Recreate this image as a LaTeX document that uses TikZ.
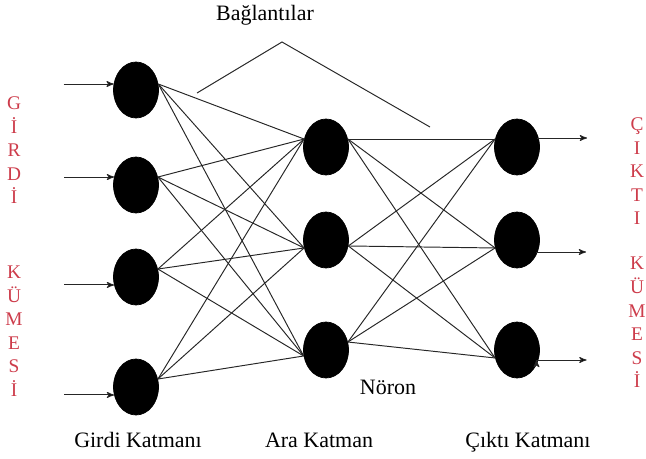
\documentclass[tikz,border=0pt]{standalone}
\usepackage{fontspec}
\setmainfont{Liberation Serif}
\usetikzlibrary{arrows,positioning,shapes.geometric}

\definecolor{setred}{RGB}{205,60,75}

\begin{document}
\begin{tikzpicture}[-,>=stealth',on grid,
  neuron/.style={ellipse,fill=black,draw=black,inner sep=0pt,
    minimum width=0.9cm,minimum height=1.12cm},
  link/.style={draw=black!85,line width=0.55pt},
  label/.style={font=\fontsize{12.5}{14}\selectfont,anchor=base},
  setlabel/.style={text=setred,font=\fontsize{11}{13.4}\selectfont,align=center}]

\useasboundingbox (0,0) rectangle (12.92,-9.18);

\node[neuron] (i_1) at (2.72,-1.80) {};
\node[neuron] (i_2) [below=1.90cm of i_1] {};
\node[neuron] (i_3) [below=1.84cm of i_2] {};
\node[neuron] (i_4) [below=2.20cm of i_3] {};
\node[neuron] (h_1) at (6.52,-2.94) {};
\node[neuron] (h_2) [below=1.86cm of h_1] {};
\node[neuron] (h_3) [below=2.20cm of h_2] {};
\node[neuron] (o_1) [right=3.82cm of h_1] {};
\node[neuron] (o_2) [right=3.82cm of h_2] {};
\node[neuron] (o_3) [right=3.82cm of h_3] {};

% free ends of the arrows
\coordinate[left=1cm of i_1.165] (x_1);
\coordinate[left=1cm of i_2.160] (x_2);
\coordinate[left=1cm of i_3.200] (x_3);
\coordinate[left=1cm of i_4.200] (x_4);
\coordinate (s_1) at ([shift={(0.40,0.18)}]o_1.center);
\coordinate (s_2) at ([shift={(0.38,-0.24)}]o_2.center);
\coordinate (s_3) at ([shift={(0.39,-0.20)}]o_3.center);
\coordinate[right=1cm of s_1] (y_1);
\coordinate[right=1cm of s_2] (y_2);
\coordinate[right=1cm of s_3] (y_3);

\path[->,link] (x_1) edge (i_1.165)
  (x_2) edge (i_2.160)
  (x_3) edge (i_3.200)
  (x_4) edge (i_4.200)
  (s_1) edge (y_1)
  (s_2) edge (y_2)
  (s_3) edge (y_3);

\path[link] (i_1.15) edge (h_1.160)
  (i_1.15) edge (h_2.200)
  (i_1.15) edge (h_3.195)
  (i_2.20) edge (h_1.160)
  (i_2.20) edge (h_2.200)
  (i_2.20) edge (h_3.195)
  (i_3.20) edge (h_1.160)
  (i_3.20) edge (h_2.200)
  (i_3.20) edge (h_3.195)
  (i_4.20) edge (h_1.160)
  (i_4.20) edge (h_2.200)
  (i_4.20) edge (h_3.195);

\path[link] (h_1.20) edge (o_1.160)
  (h_1.20) edge (o_2.200)
  (h_1.20) edge (o_3.200)
  (h_2.345) edge (o_1.160)
  (h_2.345) edge (o_2.200)
  (h_2.345) edge (o_3.200)
  (h_3.20) edge (o_1.160)
  (h_3.20) edge (o_2.200)
  (h_3.20) edge (o_3.200);

% pointer to the links
\coordinate (b_1) at (3.94,-1.86);
\coordinate (b_2) at (5.64,-0.84);
\coordinate (b_3) at (8.60,-2.54);
\draw[link] (b_1) -- (b_2) -- (b_3);

\node[label] (links) at (5.30,-0.40) {Bağlantılar};
\node[label] (neuron) at (7.76,-7.88) {Nöron};
\node[label] (in_layer) at (2.76,-8.95) {Girdi Katmanı};
\node[label] (mid_layer) at (6.38,-8.95) {Ara Katman};
\node[label] (out_layer) at (10.56,-8.95) {Çıktı Katmanı};

\node[setlabel] (in_a) at (0.28,-3.01) {G\\İ\\R\\D\\İ};
\node[setlabel] (in_b) at (0.28,-6.62) {K\\Ü\\M\\E\\S\\İ};
\node[setlabel] (out_a) at (12.74,-3.43) {Ç\\I\\K\\T\\I};
\node[setlabel] (out_b) at (12.74,-6.45) {K\\Ü\\M\\E\\S\\İ};

\end{tikzpicture}
\end{document}
